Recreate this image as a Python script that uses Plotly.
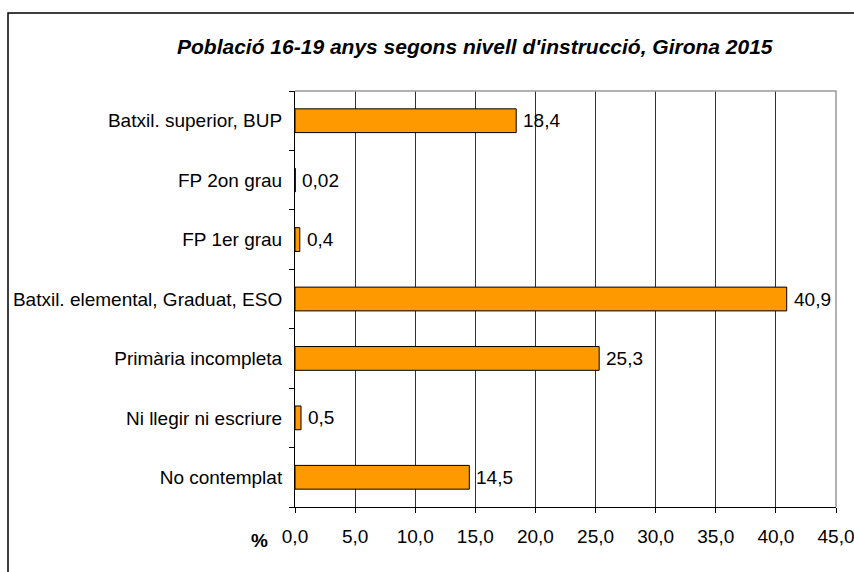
import plotly.graph_objects as go

categories = ["Batxil. superior, BUP", "FP 2on grau", "FP 1er grau",
              "Batxil. elemental, Graduat, ESO", "Primària incompleta",
              "Ni llegir ni escriure", "No contemplat"]
values = [18.4, 0.02, 0.4, 40.9, 25.3, 0.5, 14.5]
value_labels = ["18,4", "0,02", "0,4", "40,9", "25,3", "0,5", "14,5"]
title = "Població 16-19 anys segons nivell d'instrucció, Girona 2015"

FONT = "Liberation Sans, Arial, sans-serif"
FS = 19
W, H = 854, 572
L, R, T, B = 295, 18, 91, 65

fig = go.Figure(go.Bar(
    x=values, y=categories, orientation="h", width=0.4,
    marker=dict(color="#FF9900", line=dict(color="#000000", width=1)),
    hoverinfo="skip",
))

for v, c, t in zip(values, categories, value_labels):
    fig.add_annotation(x=v, y=c, text=t, showarrow=False, xanchor="left",
                       xshift=5, font=dict(family=FONT, size=FS, color="#000"))

pw = W - L - R
ph = H - T - B
def px(x):
    return (x - L) / pw
def py(y):
    return (H - B - y) / ph

# outer chart border (extends past the window on right and bottom)
fig.add_shape(type="rect", xref="paper", yref="paper",
              x0=px(8), x1=px(900), y0=py(620), y1=py(13),
              line=dict(color="#000", width=1.5), layer="below")
# plot area top and right border
fig.add_shape(type="path", xref="paper", yref="paper",
              path="M 0 1 L 1 1 L 1 0", line=dict(color="#999", width=1.5))

fig.add_annotation(xref="paper", yref="paper", x=px(475), y=py(46),
                   xanchor="center", yanchor="middle",
                   text=f"<b><i>{title}</i></b>", showarrow=False,
                   font=dict(family=FONT, size=21, color="#000"))
fig.add_annotation(xref="paper", yref="paper", x=px(259), y=py(540),
                   xanchor="center", yanchor="middle",
                   text="<b>%</b>", showarrow=False,
                   font=dict(family=FONT, size=FS, color="#000"))

fig.update_layout(
    width=W, height=H, margin=dict(l=L, r=R, t=T, b=B, autoexpand=False),
    paper_bgcolor="white", plot_bgcolor="white",
    separators=",.", showlegend=False,
    font=dict(family=FONT, size=FS, color="#000"),
    xaxis=dict(range=[0, 45], dtick=5, tick0=0, tickformat=".1f",
               showgrid=True, gridcolor="#333333", gridwidth=1,
               showline=True, linecolor="#000", linewidth=1,
               ticks="outside", ticklen=5, tickcolor="#000",
               ticklabelstandoff=7, ticklabeloverflow="allow",
               automargin=False,
               zeroline=False, fixedrange=True,
               tickfont=dict(family=FONT, size=FS, color="#000")),
    yaxis=dict(categoryorder="array", categoryarray=categories[::-1],
               showgrid=False, showline=True, linecolor="#000", linewidth=1,
               ticks="outside", ticklen=5, tickcolor="#000",
               tickson="boundaries", ticklabelstandoff=8, fixedrange=True,
               automargin=False,
               tickfont=dict(family=FONT, size=FS, color="#000")),
)

fig.write_html("out.html", config={"displayModeBar": False},
               post_script="document.body.style.margin='0px';document.body.style.overflow='hidden';")
